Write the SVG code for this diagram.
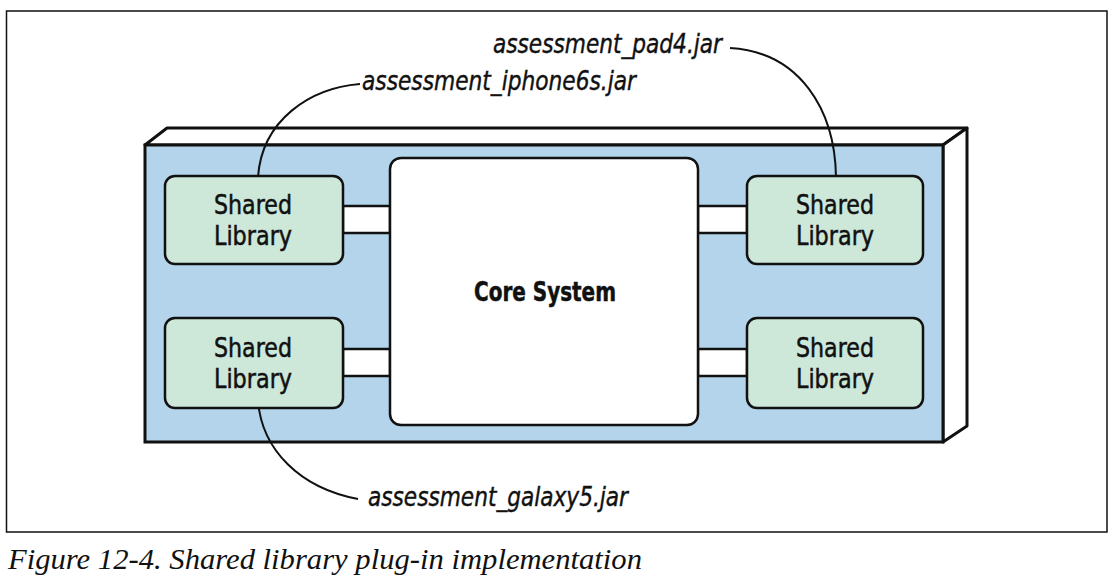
<svg xmlns="http://www.w3.org/2000/svg" width="1116" height="584" viewBox="0 0 1116 584">
<style>
.lib{fill:#cde7d9;stroke:#111;stroke-width:2.5}
.bar{fill:#fff;stroke:#111;stroke-width:2.5}
.t{font-family:"DejaVu Sans Condensed","DejaVu Sans",sans-serif;font-stretch:condensed;font-size:27px;fill:#111;stroke:#111;stroke-width:0.5;text-anchor:middle}
.lbl{font-family:"DejaVu Sans Condensed","DejaVu Sans",sans-serif;font-stretch:condensed;font-style:italic;font-size:27px;fill:#111;stroke:#111;stroke-width:0.4}
.lead{fill:none;stroke:#111;stroke-width:2}
</style>
<rect x="6.5" y="11" width="1100.5" height="521" fill="#fff" stroke="#111" stroke-width="1.5"/>
<g id="platform">
<polygon points="145,145 167,128 967,128 943,145" fill="#fff" stroke="#111" stroke-width="3" stroke-linejoin="round"/>
<polygon points="943,145 967,128 967,426 943,442" fill="#fff" stroke="#111" stroke-width="3" stroke-linejoin="round"/>
<rect x="145" y="145" width="798" height="297" fill="#b3d4ea" stroke="#111" stroke-width="3"/>
</g>
<g id="connectors">
<rect class="bar" x="343" y="206" width="47" height="27"/>
<rect class="bar" x="343" y="349" width="47" height="27"/>
<rect class="bar" x="698" y="206" width="49" height="27"/>
<rect class="bar" x="698" y="349" width="49" height="27"/>
<path class="lead" d="M258,177 C262,120 310,88 360,84"/>
<path class="lead" d="M730,48 C800,52 835,110 836,177"/>
<path class="lead" d="M258,401 C262,450 300,488 358,499"/>
</g>
<g id="core">
<rect x="390" y="158" width="308" height="267" rx="11" fill="#fff" stroke="#111" stroke-width="2.5"/>
<text class="t" x="545" y="301" font-weight="bold" textLength="142" lengthAdjust="spacingAndGlyphs">Core System</text>
</g>
<g id="lib1">
<rect class="lib" x="165" y="176" width="178" height="88" rx="10"/>
<text class="t" x="253" y="214" textLength="78" lengthAdjust="spacingAndGlyphs">Shared</text>
<text class="t" x="253" y="245" textLength="78" lengthAdjust="spacingAndGlyphs">Library</text>
</g>
<g id="lib2">
<rect class="lib" x="165" y="318" width="178" height="90" rx="10"/>
<text class="t" x="253" y="357" textLength="78" lengthAdjust="spacingAndGlyphs">Shared</text>
<text class="t" x="253" y="388" textLength="78" lengthAdjust="spacingAndGlyphs">Library</text>
</g>
<g id="lib3">
<rect class="lib" x="747" y="176" width="176" height="88" rx="10"/>
<text class="t" x="835" y="214" textLength="78" lengthAdjust="spacingAndGlyphs">Shared</text>
<text class="t" x="835" y="245" textLength="78" lengthAdjust="spacingAndGlyphs">Library</text>
</g>
<g id="lib4">
<rect class="lib" x="747" y="318" width="176" height="90" rx="10"/>
<text class="t" x="835" y="357" textLength="78" lengthAdjust="spacingAndGlyphs">Shared</text>
<text class="t" x="835" y="388" textLength="78" lengthAdjust="spacingAndGlyphs">Library</text>
</g>
<g id="labels">
<text class="lbl" x="493" y="53" textLength="229" lengthAdjust="spacingAndGlyphs">assessment_pad4.jar</text>
<text class="lbl" x="362" y="90" textLength="274" lengthAdjust="spacingAndGlyphs">assessment_iphone6s.jar</text>
<text class="lbl" x="368" y="506" textLength="260" lengthAdjust="spacingAndGlyphs">assessment_galaxy5.jar</text>
</g>
<text x="8" y="569" font-family="Liberation Serif, serif" font-style="italic" font-size="30" fill="#111" textLength="634" lengthAdjust="spacingAndGlyphs">Figure 12-4. Shared library plug-in implementation</text>
</svg>
